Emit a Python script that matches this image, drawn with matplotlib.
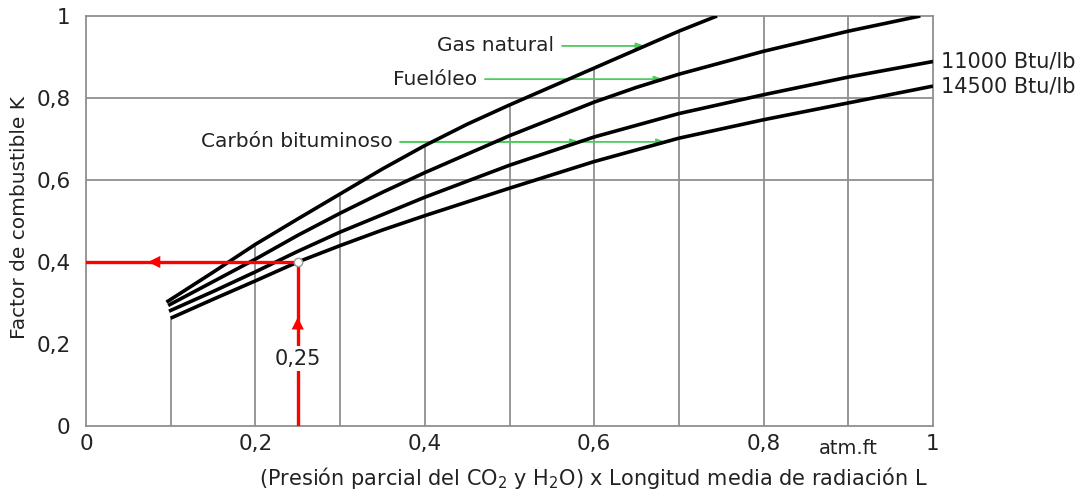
import numpy as np
import matplotlib
matplotlib.use("Agg")
import matplotlib.pyplot as plt

# Fuel factor K vs (partial pressure CO2 + H2O) x mean beam length L
gas_x = [0.095, 0.15, 0.2, 0.25, 0.3, 0.35, 0.4, 0.45, 0.5, 0.6, 0.7, 0.745]
gas_y = [0.302, 0.375, 0.443, 0.505, 0.566, 0.627, 0.684, 0.736, 0.783, 0.873, 0.963, 1.0]

fuel_x = [0.097, 0.15, 0.2, 0.25, 0.3, 0.35, 0.4, 0.5, 0.6, 0.65, 0.7, 0.8, 0.9, 0.985]
fuel_y = [0.294, 0.352, 0.407, 0.465, 0.519, 0.57, 0.618, 0.708, 0.79, 0.826, 0.858, 0.914, 0.963, 1.0]

c11000_x = [0.098, 0.15, 0.2, 0.25, 0.3, 0.4, 0.5, 0.6, 0.7, 0.8, 0.9, 1.0]
c11000_y = [0.28, 0.328, 0.376, 0.426, 0.473, 0.558, 0.636, 0.705, 0.762, 0.808, 0.851, 0.889]

c14500_x = [0.1, 0.15, 0.2, 0.25, 0.3, 0.35, 0.4, 0.5, 0.6, 0.7, 0.8, 0.9, 1.0]
c14500_y = [0.263, 0.309, 0.354, 0.40, 0.44, 0.478, 0.513, 0.58, 0.645, 0.702, 0.747, 0.788, 0.829]

# worked example: read K for pL = 0.25
READ_X = 0.25
READ_K = 0.40

x_ticks = [0, 0.2, 0.4, 0.6, 0.8, 1.0]
x_ticklabels = ["0", "0,2", "0,4", "0,6", "0,8", "1"]
y_ticks = [0, 0.2, 0.4, 0.6, 0.8, 1.0]
y_ticklabels = ["0", "0,2", "0,4", "0,6", "0,8", "1"]
v_grid = [0.1, 0.2, 0.3, 0.4, 0.5, 0.6, 0.7, 0.8, 0.9]
h_grid = [0.6, 0.8]

GRID = "#8f8f8f"
GREEN = "#4ccc5a"
TXT = "#222222"

fig = plt.figure(figsize=(10.86, 4.95), dpi=100)
ax = fig.add_axes([86 / 1086, (495 - 426) / 495, 847 / 1086, 410 / 495])
ax.set_xlim(0, 1)
ax.set_ylim(0, 1)

# grid: verticals stop at the upper curve
for xv in v_grid:
    if xv < 0.15:
        top = np.interp(xv, c14500_x, c14500_y)
    else:
        top = min(1.0, np.interp(xv, gas_x, gas_y))
    ax.plot([xv, xv], [0, top], color=GRID, lw=1.3, zorder=1)
for yh in h_grid:
    ax.axhline(yh, color=GRID, lw=1.3, zorder=1)

for s in ax.spines.values():
    s.set_color(GRID)
    s.set_linewidth(1.3)

for cx, cy in [(gas_x, gas_y), (fuel_x, fuel_y), (c11000_x, c11000_y), (c14500_x, c14500_y)]:
    ax.plot(cx, cy, color="black", lw=2.6, solid_capstyle="butt", solid_joinstyle="round", zorder=3)

# red reading lines
ax.plot([READ_X, READ_X], [0, READ_K], color="red", lw=2.4, zorder=4)
ax.plot([0, READ_X], [READ_K, READ_K], color="red", lw=2.4, zorder=4)
ax.annotate("", xy=(READ_X * 0.28, READ_K), xytext=(READ_X * 0.4, READ_K),
            arrowprops=dict(arrowstyle="-|>", color="red", lw=0, mutation_scale=22), zorder=5)
ax.annotate("", xy=(READ_X, READ_K * 0.68), xytext=(READ_X, READ_K * 0.55),
            arrowprops=dict(arrowstyle="-|>", color="red", lw=0, mutation_scale=22), zorder=5)
ax.plot([READ_X], [READ_K], marker="o", ms=6, mfc="white", mec="#999999", mew=1, zorder=6)
ax.text(READ_X, READ_K * 0.41, "0,25", ha="center", va="center", fontsize=15, color=TXT,
        bbox=dict(boxstyle="square,pad=0.12", fc="white", ec="none"), zorder=5)

# green pointers from the fuel names to their curves
def pointer(label, x_text, y, curves):
    ax.text(x_text, y, label, ha="right", va="center", fontsize=14.5, color=TXT)
    for cx, cy in curves:
        tip = np.interp(y, cy, cx)
        ax.annotate("", xy=(tip, y), xytext=(x_text + 0.009, y),
                    arrowprops=dict(arrowstyle="-|>,head_length=0.5,head_width=0.18",
                                    color=GREEN, lw=1.3, shrinkA=0, shrinkB=0), zorder=2)

pointer("Gas natural", 0.553, 0.927, [(gas_x, gas_y)])
pointer("Fuelóleo", 0.462, 0.846, [(fuel_x, fuel_y)])
pointer("Carbón bituminoso", 0.362, 0.693, [(c11000_x, c11000_y), (c14500_x, c14500_y)])

ax.text(1.01, c11000_y[-1], "11000 Btu/lb", ha="left", va="center", fontsize=15, color=TXT, clip_on=False)
ax.text(1.01, c14500_y[-1], "14500 Btu/lb", ha="left", va="center", fontsize=15, color=TXT, clip_on=False)

ax.set_xticks(x_ticks)
ax.set_xticklabels(x_ticklabels)
ax.set_yticks(y_ticks)
ax.set_yticklabels(y_ticklabels)
ax.tick_params(axis="both", length=0, labelsize=15.5, labelcolor=TXT)
ax.tick_params(axis="x", pad=6)
ax.tick_params(axis="y", pad=11)

ax.text(0.9, -0.055, "atm.ft", ha="center", va="center", fontsize=14, color=TXT,
        transform=ax.transData, clip_on=False)
fig.text(0.546, 0.034, r"(Presión parcial del CO$_{\mathrm{2}}$ y H$_{\mathrm{2}}$O) x Longitud media de radiación L",
         ha="center", va="center", fontsize=15, color=TXT)
fig.text(0.018, 0.56, "Factor de combustible K", rotation=90, ha="center", va="center",
         fontsize=14.5, color=TXT)

fig.savefig("out.png", dpi=100, facecolor="white")
